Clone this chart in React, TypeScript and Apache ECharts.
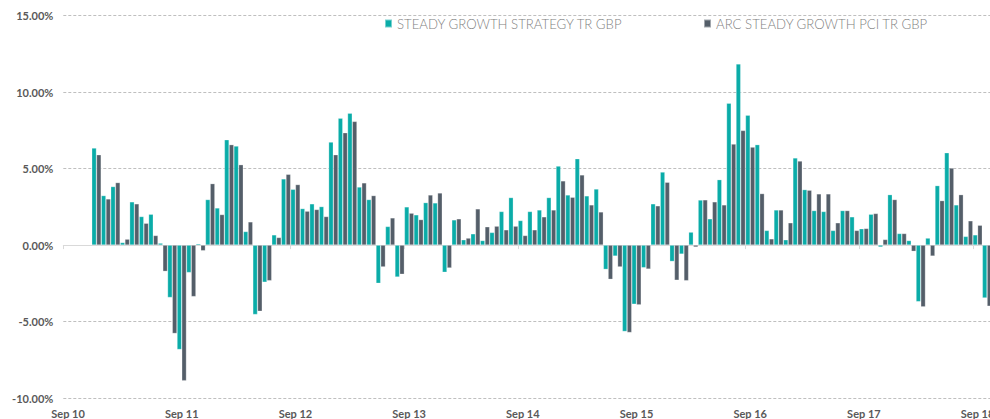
import React, { useEffect, useRef } from "react";
import * as echarts from "echarts";

const MONTHS = ["Sep", "Oct", "Nov", "Dec", "Jan", "Feb", "Mar", "Apr", "May", "Jun", "Jul", "Aug"];
const START_YEAR = 10;
const CATEGORY_COUNT = 98; // Sep 10 .. Oct 18

const categories: string[] = [];
for (let i = 0; i < CATEGORY_COUNT; i++) {
  const m = MONTHS[i % 12];
  const y = START_YEAR + Math.floor((i + 8) / 12);
  categories.push(`${m} ${y}`);
}

const SERIES_A_NAME = "STEADY GROWTH STRATEGY TR GBP";
const SERIES_B_NAME = "ARC STEADY GROWTH PCI TR GBP";

const strategy: (number | null)[] = [
  null, null, null,
  6.35, 3.24, 3.83, 0.17, 2.83, 1.87, 2.02, 0.13, -3.43, -6.83, -1.80, 0.09,
  2.98, 2.43, 6.89, 6.48, 0.89, -4.54, -2.43, 0.67, 4.33, 3.65, 2.39, 2.70, 2.52,
  6.74, 8.30, 8.63, 3.80, 2.98, -2.50, 1.22, -2.09, 2.50, 1.98, 2.78, 2.76, -1.78,
  1.65, 0.35, 0.74, 0.30, 0.83, 2.20, 3.11, 1.61, 2.20, 2.30, 3.11, 5.17, 3.28,
  5.65, 3.22, 3.67, -1.59, -0.72, -5.65, -3.87, -1.48, 2.70, 4.78, -1.07, -0.59, 0.85,
  2.95, 1.72, 4.28, 9.28, 11.85, 8.50, 6.57, 0.96, 2.30, 0.35, 5.70, 3.63, 2.26, 2.20, 0.96,
  2.26, 1.85, 1.07, 2.02, -0.13, 3.30, 0.76, 0.30, -3.70, 0.46, 3.89, 6.04, 2.63, 0.57, 0.67, -3.46,
];

const pci: (number | null)[] = [
  null, null, null,
  5.91, 3.02, 4.09, 0.39, 2.70, 1.43, 0.63, -1.72, -5.78, -8.87, -3.37, -0.37,
  4.02, 2.00, 6.57, 5.26, 1.52, -4.33, -2.33, 0.50, 4.63, 3.96, 2.22, 2.33, 1.87,
  5.91, 7.35, 8.09, 4.07, 3.24, -1.43, 1.78, -1.91, 2.09, 1.67, 3.28, 3.41, -1.50,
  1.72, 0.46, 2.37, 1.20, 1.24, 1.00, 1.24, 0.63, 1.00, 1.85, 2.30, 4.20, 3.13,
  4.59, 2.63, 2.17, -2.24, -1.43, -5.72, -3.91, -1.57, 2.57, 4.11, -2.30, -2.33, -0.13,
  2.96, 2.83, 2.63, 6.61, 7.50, 6.41, 3.37, 0.41, 2.30, 1.46, 5.50, 3.59, 3.35, 3.35, 1.46,
  2.26, 0.96, 1.09, 2.07, 0.37, 2.98, 0.76, -0.41, -4.04, -0.72, 2.91, 5.04, 3.30, 1.59, 1.30, -4.00,
];

const Y_MIN = -10;
const Y_MAX = 15;
const Y_INTERVAL = 5;

const TEAL = "#0aaca8";
const SLATE = "#545e69";
const LABEL_COLOR = "#595959";
const FONT = "Lato, 'Noto Sans', sans-serif";

export default function App() {
  const ref = useRef<HTMLDivElement>(null);

  useEffect(() => {
    document.body.style.margin = "0";
    if (!ref.current) return;
    const chart = echarts.init(ref.current, undefined, { renderer: "svg" });
    const legendText = {
      color: "#7f7f7f",
      fontFamily: FONT,
      fontSize: 13.2,
      fontWeight: 300 as any,
    };
    chart.setOption({
      animation: false,
      backgroundColor: "#ffffff",
      grid: { left: 63.3, top: 15.7, width: 928.5, height: 382.6, containLabel: false },
      legend: [
        {
          data: [SERIES_A_NAME],
          left: 384,
          top: 17,
          itemWidth: 7,
          itemHeight: 8,
          itemGap: 0,
          icon: "rect",
          textStyle: legendText,
          padding: 0,
        },
        {
          data: [SERIES_B_NAME],
          left: 703,
          top: 17,
          itemWidth: 7,
          itemHeight: 8,
          itemGap: 0,
          icon: "rect",
          textStyle: legendText,
          padding: 0,
        },
      ],
      xAxis: [
        {
          type: "category",
          data: categories,
          position: "bottom",
          axisLine: { show: true, onZero: true, lineStyle: { color: "#d9d9d9", width: 1 } },
          axisTick: { show: true, interval: 11, length: 4, lineStyle: { color: "#d9d9d9" } },
          axisLabel: { show: false },
          splitLine: { show: false },
        },
        {
          type: "category",
          data: categories,
          position: "bottom",
          axisLine: { show: false, onZero: false },
          axisTick: { show: false },
          splitLine: { show: false },
          axisLabel: {
            interval: 11,
            margin: 10,
            color: LABEL_COLOR,
            fontFamily: FONT,
            fontWeight: "bold",
            fontSize: 11,
          },
        },
      ],
      yAxis: {
        type: "value",
        min: Y_MIN,
        max: Y_MAX,
        interval: Y_INTERVAL,
        axisLine: { show: false },
        axisTick: { show: false },
        axisLabel: {
          formatter: (v: number) => v.toFixed(2) + "%",
          margin: 10,
          color: LABEL_COLOR,
          fontFamily: FONT,
          fontWeight: "bold",
          fontSize: 11,
        },
        splitLine: { show: true, lineStyle: { type: [3, 2], color: "#bfbfbf", width: 1 } },
      },
      series: [
        {
          name: SERIES_A_NAME,
          type: "bar",
          data: strategy,
          xAxisIndex: 0,
          barGap: "0%",
          barCategoryGap: "0%",
          itemStyle: { color: TEAL, borderColor: "rgba(255,255,255,0.45)", borderWidth: 0.6 },
        },
        {
          name: SERIES_B_NAME,
          type: "bar",
          data: pci,
          xAxisIndex: 0,
          barGap: "0%",
          barCategoryGap: "0%",
          itemStyle: { color: SLATE, borderColor: "rgba(255,255,255,0.45)", borderWidth: 0.6 },
        },
      ],
    });
    return () => chart.dispose();
  }, []);

  return (
    <div style={{ width: 990, height: 419, overflow: "hidden", position: "relative" }}>
      <div ref={ref} style={{ width: 1000, height: 419 }} />
    </div>
  );
}
